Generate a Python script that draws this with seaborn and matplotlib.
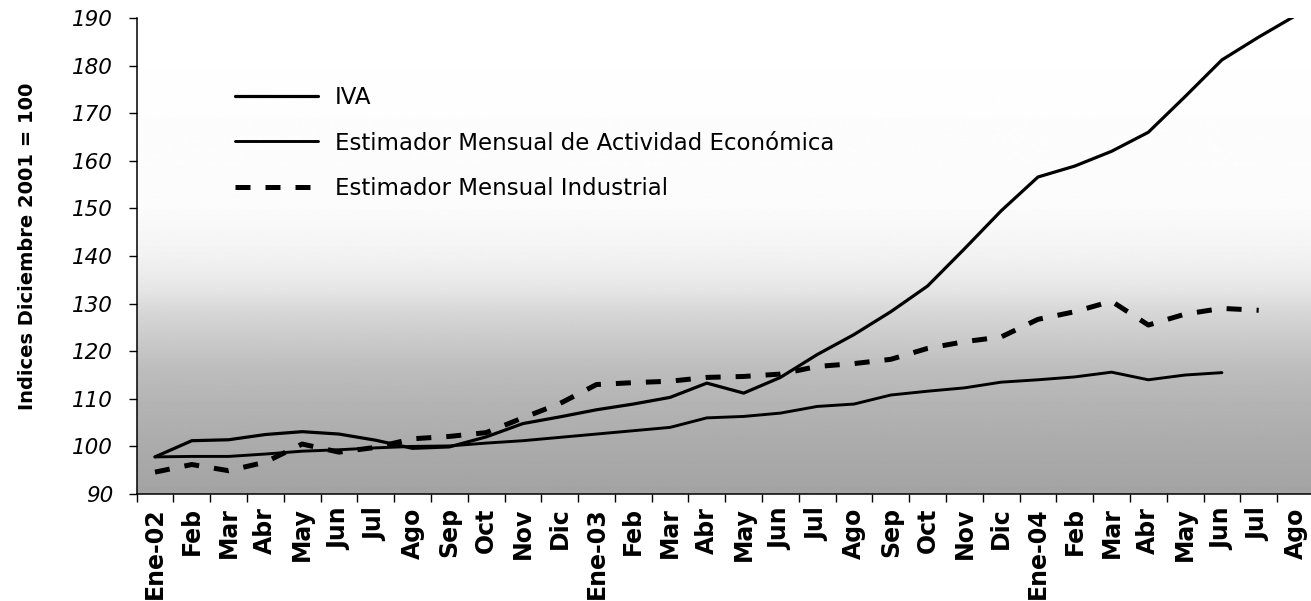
import numpy as np
import pandas as pd
import matplotlib
matplotlib.use("Agg")
import matplotlib.pyplot as plt
import seaborn as sns

# Monthly categories, Jan-2002 .. Aug-2004
meses = ["Ene-02", "Feb", "Mar", "Abr", "May", "Jun", "Jul", "Ago", "Sep", "Oct", "Nov", "Dic",
         "Ene-03", "Feb", "Mar", "Abr", "May", "Jun", "Jul", "Ago", "Sep", "Oct", "Nov", "Dic",
         "Ene-04", "Feb", "Mar", "Abr", "May", "Jun", "Jul", "Ago"]

# Index values (December 2001 = 100)
iva = [97.8, 101.2, 101.4, 102.5, 103.1, 102.6, 101.3, 99.6, 99.9, 102.0, 104.8, 106.2,
       107.7, 108.9, 110.3, 113.3, 111.2, 114.5, 119.3, 123.5, 128.3, 133.7, 141.5, 149.5,
       156.6, 158.9, 162.0, 166.0, 173.5, 181.2, 186.0, 190.5]
emae = [97.8, 97.9, 97.9, 98.4, 99.0, 99.3, 99.7, 100.0, 100.1, 100.7, 101.2, 101.9,
        102.6, 103.3, 104.0, 106.0, 106.3, 107.0, 108.4, 108.9, 110.8, 111.6, 112.3, 113.5,
        114.0, 114.6, 115.6, 114.0, 115.0, 115.5]
emi = [94.6, 96.2, 94.9, 96.7, 100.5, 98.8, 99.8, 101.6, 102.1, 102.9, 106.0, 109.0,
       113.0, 113.4, 113.7, 114.5, 114.7, 115.2, 116.8, 117.4, 118.3, 120.6, 122.0, 123.0,
       126.7, 128.3, 130.5, 125.5, 127.8, 129.0, 128.6]

nombres = ["IVA",
           "Estimador Mensual de Actividad Económica",
           "Estimador Mensual Industrial"]
y_ticks = list(range(90, 191, 10))

sns.set_theme(style="white")
plt.rcParams["font.family"] = ["DejaVu Sans"]
plt.rcParams["text.color"] = "black"
plt.rcParams["axes.labelcolor"] = "black"
plt.rcParams["xtick.color"] = "black"
plt.rcParams["ytick.color"] = "black"

fig = plt.figure(figsize=(13.11, 6.01), dpi=100)
ax = fig.add_axes([0.1042, 0.178, 0.898, 0.792])

# Vertical grey gradient fill of the plot area (darker towards the bottom)
grad_v = np.linspace(90, 190, 500)
stop_v = [90, 100, 110, 116, 122, 128, 133, 140, 150, 190]
stop_g = [0.64, 0.67, 0.71, 0.74, 0.79, 0.84, 0.90, 0.95, 0.985, 1.0]
shade = np.interp(grad_v, stop_v, stop_g)
ax.imshow(np.repeat(shade[:, None], 2, axis=1), cmap="gray", vmin=0, vmax=1,
          extent=[-0.5, 31.5, 90, 190], origin="lower", aspect="auto",
          interpolation="bilinear", zorder=0)

series = [
    (nombres[0], iva, 2.3, "-"),
    (nombres[1], emae, 2.1, "-"),
    (nombres[2], emi, 3.6, (0, (3, 3))),
]
for nombre, vals, lw, ls in series:
    df = pd.DataFrame({"mes": np.arange(len(vals)), "indice": vals})
    sns.lineplot(data=df, x="mes", y="indice", ax=ax, color="black", linewidth=lw,
                 linestyle=ls, label=nombre, zorder=3, solid_capstyle="round",
                 dash_capstyle="butt")

ax.set_xlim(-0.5, 31.5)
ax.set_ylim(90, 190)

# Category axis: labels centred, tick marks between categories
ax.set_xticks(np.arange(len(meses)))
ax.set_xticklabels(meses, rotation=90, fontsize=17, fontweight="bold")
ax.set_xticks(np.arange(-0.5, len(meses), 1.0), minor=True)
ax.tick_params(axis="x", which="major", length=0, pad=9.5)
ax.tick_params(axis="x", which="minor", length=6, width=1.0, direction="out", bottom=True)

ax.set_yticks(y_ticks)
ax.set_yticklabels([str(v) for v in y_ticks], fontsize=15.5, fontstyle="oblique")
ax.tick_params(axis="y", which="major", length=6, width=1.0, direction="out", pad=11, left=True)

ax.set_xlabel("")
ax.set_ylabel("Indices Diciembre 2001 = 100", fontsize=14, fontweight="bold", va="center")
ax.yaxis.set_label_coords(-0.093, 0.521)

for side in ("top", "right"):
    ax.spines[side].set_visible(False)
for side in ("left", "bottom"):
    ax.spines[side].set_color("black")
    ax.spines[side].set_linewidth(1.1)
ax.grid(False)

leg = ax.legend(loc="center left", bbox_to_anchor=(235 / 1311, 1 - 143 / 601),
                bbox_transform=fig.transFigure, frameon=False, fontsize=16.5,
                handlelength=3.62, handletextpad=0.74, labelspacing=1.0,
                borderpad=0, borderaxespad=0)

fig.savefig("out.png", dpi=100)
